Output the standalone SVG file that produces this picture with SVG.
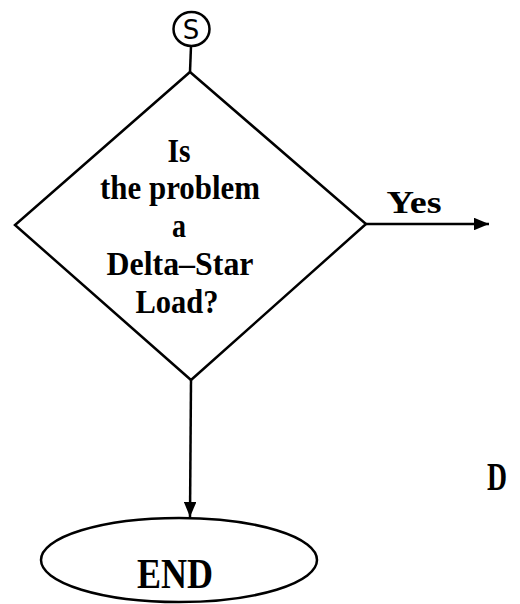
<svg xmlns="http://www.w3.org/2000/svg" width="520" height="604" viewBox="0 0 520 604">
<defs>
<style>
.ln{fill:none;stroke:#000;stroke-width:2.5;stroke-linejoin:miter}
.t{font-family:"Liberation Serif","Times New Roman",serif;font-weight:bold;fill:#000;text-anchor:middle}
</style>
<marker id="ah" viewBox="0 0 12 10" refX="12" refY="5" markerWidth="6" markerHeight="5" orient="auto" markerUnits="strokeWidth">
<path d="M0,0 L12,5 L0,10 Z" fill="#000"/>
</marker>
</defs>
<rect width="520" height="604" fill="#fff"/>
<g id="connectors">
<line class="ln" x1="191" y1="46" x2="190" y2="72"/>
<line class="ln" x1="366" y1="224" x2="489" y2="224" marker-end="url(#ah)"/>
<line class="ln" x1="191" y1="380" x2="190" y2="517" marker-end="url(#ah)"/>
</g>
<g id="connector5">
<ellipse class="ln" cx="191.5" cy="29" rx="18" ry="17"/>
<text class="t" x="191" y="39" style="font-family:'DejaVu Sans','Liberation Sans',sans-serif;font-weight:normal;font-size:26px">S</text>
</g>
<g id="decision">
<polygon class="ln" points="190,72 366,224 191,380 15,225"/>
<text class="t" x="179" y="162" font-size="34" textLength="23" lengthAdjust="spacingAndGlyphs">Is</text>
<text class="t" x="180" y="199" font-size="34" textLength="160" lengthAdjust="spacingAndGlyphs">the problem</text>
<text class="t" x="179" y="237" font-size="34" textLength="14" lengthAdjust="spacingAndGlyphs">a</text>
<text class="t" x="180" y="275" font-size="34" textLength="147" lengthAdjust="spacingAndGlyphs">Delta–Star</text>
<text class="t" x="177" y="313" font-size="34" textLength="83" lengthAdjust="spacingAndGlyphs">Load?</text>
</g>
<g id="yes-label">
<text class="t" x="414" y="213" font-size="32" textLength="55" lengthAdjust="spacingAndGlyphs">Yes</text>
</g>
<g id="d-label">
<text class="t" x="497" y="490" font-size="41" textLength="20" lengthAdjust="spacingAndGlyphs">D</text>
</g>
<g id="end">
<ellipse class="ln" cx="179" cy="560" rx="138" ry="42"/>
<text class="t" x="175" y="588" font-size="42" textLength="76" lengthAdjust="spacingAndGlyphs">END</text>
</g>
</svg>
